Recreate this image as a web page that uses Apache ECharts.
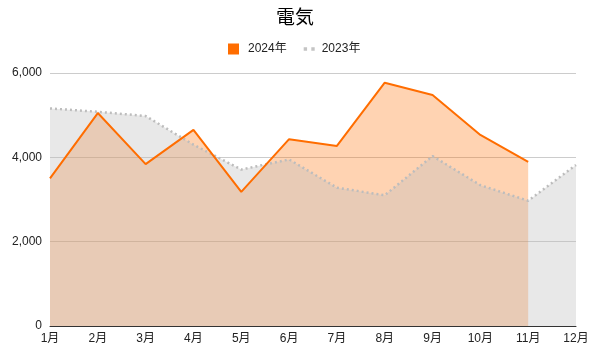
<!DOCTYPE html>
<html><head><meta charset="utf-8">
<script src="https://cdn.jsdelivr.net/npm/echarts@6/dist/echarts.min.js"></script>
<style>html,body{margin:0;padding:0;background:#fff}#c{width:600px;height:360px}</style>
</head><body><div id="c"></div>
<script>
const categories = ['1月','2月','3月','4月','5月','6月','7月','8月','9月','10月','11月','12月'];
const values2024 = [3500, 5050, 3840, 4650, 3180, 4430, 4270, 5770, 5480, 4530, 3890];
const values2023 = [5160, 5080, 4980, 4300, 3710, 3950, 3280, 3100, 4030, 3340, 2970, 3820];
const yTicks = [0, 2000, 4000, 6000];

const font = 'Liberation Sans, Arial, Noto Sans CJK JP, sans-serif';
const chart = echarts.init(document.getElementById('c'), null, {renderer: 'canvas'});
chart.setOption({
  animation: false,
  textStyle: {fontFamily: font},
  title: {text: '電気', left: 276, top: 9, padding: 0, textStyle: {fontSize: 19, fontWeight: 'normal', color: '#000', fontFamily: font}},
  legend: {
    top: 43, left: 228, itemGap: 17, itemWidth: 11, itemHeight: 11, padding: 0,
    textStyle: {fontSize: 12, color: '#222', fontFamily: font},
    data: [
      {name: '2024年', icon: 'rect', itemStyle: {color: '#ff6d00'}, textStyle: {padding: [0, 0, 0, 4]}},
      {name: '2023年', icon: 'path://M0,0h4v4h-4z M9,0h4v4h-4z', itemStyle: {color: '#c4c4c4'}, itemWidth: 13, itemHeight: 4, textStyle: {padding: [0, 0, 0, 2]}}
    ]
  },
  grid: {left: 50, right: 24, top: 73, bottom: 34, containLabel: false},
  xAxis: {
    type: 'category', data: categories, boundaryGap: false,
    axisLine: {lineStyle: {color: '#333', width: 1}},
    axisTick: {show: false},
    axisLabel: {color: '#222', fontSize: 12, margin: 7, fontFamily: font}
  },
  yAxis: {
    type: 'value', min: yTicks[0], max: yTicks[yTicks.length - 1], interval: 2000,
    axisLine: {show: false}, axisTick: {show: false},
    splitLine: {lineStyle: {color: '#cccccc'}},
    axisLabel: {color: '#222', fontSize: 12, margin: 8, fontFamily: font,
      formatter: v => v.toLocaleString('en-US')}
  },
  series: [
    {name: '2024年', type: 'line', data: values2024, showSymbol: false, symbol: 'none', z: 1,
      lineStyle: {width: 0, opacity: 0}, itemStyle: {color: '#ff6d00'},
      areaStyle: {color: '#ff6d00', opacity: 0.3}},
    {name: '2023年', type: 'line', data: values2023, showSymbol: false, symbol: 'none', z: 2,
      itemStyle: {color: '#bdbdbd'},
      lineStyle: {width: 2.5, color: '#bdbdbd', type: [2, 3]},
      areaStyle: {color: '#bdbdbd', opacity: 0.35}},
    {name: '2024年', type: 'line', data: values2024, showSymbol: false, symbol: 'none', z: 3,
      itemStyle: {color: '#ff6d00'},
      lineStyle: {width: 2, color: '#ff6d00'}}
  ]
});
</script></body></html>
